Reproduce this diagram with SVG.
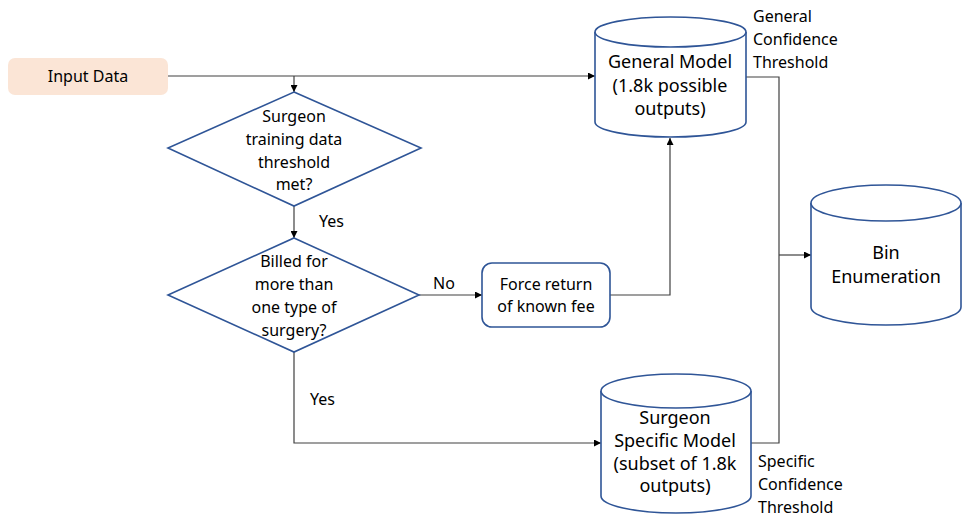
<svg xmlns="http://www.w3.org/2000/svg" width="968" height="529" viewBox="0 0 968 529">
<style>
text { font-family: "Noto Sans", "Open Sans", "DejaVu Sans", sans-serif; fill: #000; }
.shape { fill: #fff; stroke: #2F5597; stroke-width: 1.6; }
.conn { fill: none; stroke: #404040; stroke-width: 1.2; }
.t16 { font-size: 16px; }
.t18 { font-size: 18px; }
.lbl { font-size: 16px; }
.mid { text-anchor: middle; }
</style>
<defs>
<marker id="arr" viewBox="0 0 10 10" refX="10" refY="5" markerWidth="7" markerHeight="7" orient="auto" markerUnits="userSpaceOnUse">
<path d="M0,0 L10,5 L0,10 z" fill="#000"/>
</marker>
</defs>
<rect width="968" height="529" fill="#fff"/>

<g id="connectors">
<path class="conn" d="M168,76 H595" marker-end="url(#arr)"/>
<path class="conn" d="M294,76 V92" marker-end="url(#arr)"/>
<path class="conn" d="M294,206 V238" marker-end="url(#arr)"/>
<path class="conn" d="M419,295 H482" marker-end="url(#arr)"/>
<path class="conn" d="M610,295 H670 V138" marker-end="url(#arr)"/>
<path class="conn" d="M294,352 V443 H601" marker-end="url(#arr)"/>
<path class="conn" d="M746,77 H779 V443 H751"/>
<path class="conn" d="M779,255 H811" marker-end="url(#arr)"/>
</g>

<g id="input-data">
<rect x="8" y="58" width="160" height="37" rx="7" fill="#FBE5D6"/>
<text class="t16 mid" x="88" y="82">Input Data</text>
</g>

<g id="decision-threshold">
<polygon class="shape" points="294,92 421,148 294,206 168,148"/>
<text class="t16 mid" x="294" y="122">Surgeon</text>
<text class="t16 mid" x="294" y="145">training data</text>
<text class="t16 mid" x="294" y="168">threshold</text>
<text class="t16 mid" x="294" y="190">met?</text>
</g>
<text class="t16" x="319" y="227">Yes</text>

<g id="decision-billed">
<polygon class="shape" points="294,238 419,295 294,352 168,295"/>
<text class="t16 mid" x="294" y="267">Billed for</text>
<text class="t16 mid" x="294" y="290">more than</text>
<text class="t16 mid" x="294" y="313">one type of</text>
<text class="t16 mid" x="294" y="336">surgery?</text>
</g>
<text class="t16" x="433" y="289">No</text>
<text class="t16" x="310" y="405">Yes</text>

<g id="force-return">
<rect class="shape" x="482" y="263" width="128" height="64" rx="10"/>
<text class="t16 mid" x="546" y="290">Force return</text>
<text class="t16 mid" x="546" y="312">of known fee</text>
</g>

<g id="general-model">
<path class="shape" d="M595,32 V122 A75.5,15 0 0 0 746,122 V32"/>
<ellipse class="shape" cx="670.5" cy="32" rx="75.5" ry="15"/>
<text class="t18 mid" x="670" y="68">General Model</text>
<text class="t18 mid" x="670" y="92">(1.8k possible</text>
<text class="t18 mid" x="670" y="115">outputs)</text>
</g>
<g id="general-threshold-label">
<text class="lbl" x="753" y="22">General</text>
<text class="lbl" x="753" y="45">Confidence</text>
<text class="lbl" x="753" y="68">Threshold</text>
</g>

<g id="bin-enumeration">
<path class="shape" d="M811,203 V307 A75,18 0 0 0 961,307 V203"/>
<ellipse class="shape" cx="886" cy="203" rx="75" ry="18"/>
<text class="t18 mid" x="886" y="259">Bin</text>
<text class="t18 mid" x="886" y="283">Enumeration</text>
</g>

<g id="specific-model">
<path class="shape" d="M601,391 V496 A75,17 0 0 0 751,496 V391"/>
<ellipse class="shape" cx="676" cy="391" rx="75" ry="17"/>
<text class="t18 mid" x="675" y="424">Surgeon</text>
<text class="t18 mid" x="675" y="447">Specific Model</text>
<text class="t18 mid" x="675" y="470">(subset of 1.8k</text>
<text class="t18 mid" x="675" y="492">outputs)</text>
</g>
<g id="specific-threshold-label">
<text class="lbl" x="758" y="467">Specific</text>
<text class="lbl" x="758" y="490">Confidence</text>
<text class="lbl" x="758" y="513">Threshold</text>
</g>
</svg>
